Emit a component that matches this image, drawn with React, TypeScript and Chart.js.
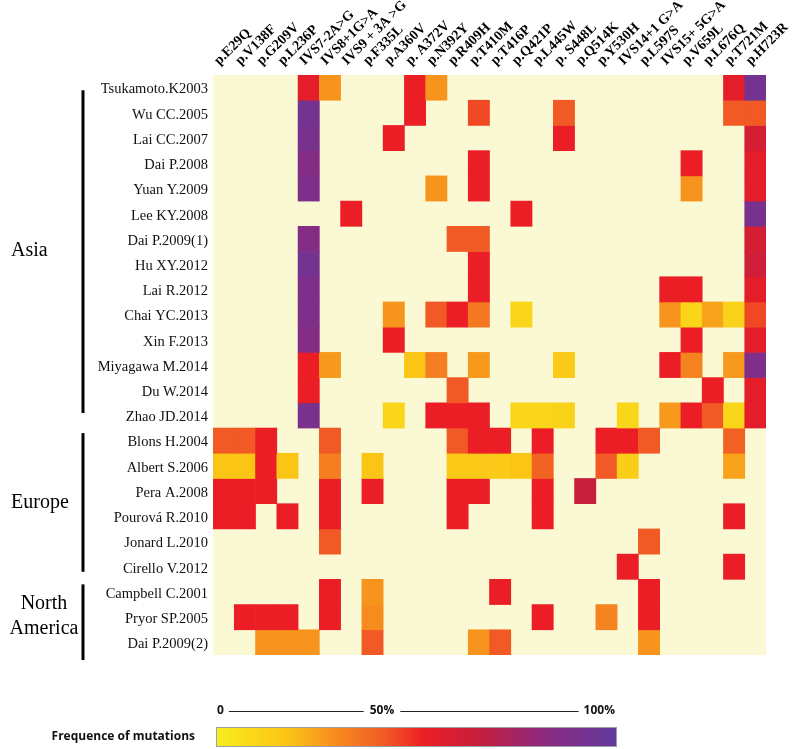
import React, { useEffect, useRef } from "react";
import { Chart, registerables } from "chart.js";

Chart.register(...registerables);

// ---------- data ----------
const mutations = [
  "p.E29Q", "p.V138F", "p.G209V", "p.L236P", "IVS7-2A>G", "IVS8+1G>A",
  "IVS9 + 3A >G", "p.F335L", "p.A360V", "p. A372V", "p.N392Y", "p.R409H",
  "p.T410M", "p.T416P", "p.Q421P", "p.L445W", "p. S448L", "p.Q514K",
  "p.Y530H", "IVS14+1 G>A", "p.L597S", "IVS15+ 5G>A", "p.V659L", "p.L676Q",
  "p.T721M", "p.H723R",
];

const studies = [
  "Tsukamoto.K2003", "Wu CC.2005", "Lai CC.2007", "Dai P.2008", "Yuan Y.2009",
  "Lee KY.2008", "Dai P.2009(1)", "Hu XY.2012", "Lai R.2012", "Chai YC.2013",
  "Xin F.2013", "Miyagawa M.2014", "Du W.2014", "Zhao JD.2014",
  "Blons H.2004", "Albert S.2006", "Pera A.2008", "Pourová R.2010",
  "Jonard L.2010", "Cirello V.2012",
  "Campbell C.2001", "Pryor SP.2005", "Dai P.2009(2)",
];

const regionNames = [["Asia"], ["Europe"], ["North", "America"]];
const regionFirstRow = [0, 14, 20];
const regionLastRow = [13, 19, 22];

const legendTitle = "Frequence of mutations";
const legendTicks = ["0", "50%", "100%"];

// frequency of each mutation (% , estimated from colour), null = not reported
const _ = null;
const frequencies: (number | null)[][] = [
  [_, _, _, _, 55, 28, _, _, _, 52, 28, _, _, _, _, _, _, _, _, _, _, _, _, _, 55, 92],
  [_, _, _, _, 92, _, _, _, _, 52, _, _, 45, _, _, _, 42, _, _, _, _, _, _, _, 42, 42],
  [_, _, _, _, 90, _, _, _, 52, _, _, _, _, _, _, _, 52, _, _, _, _, _, _, _, _, 60],
  [_, _, _, _, 85, _, _, _, _, _, _, _, 52, _, _, _, _, _, _, _, _, _, 52, _, _, 55],
  [_, _, _, _, 88, _, _, _, _, _, 28, _, 52, _, _, _, _, _, _, _, _, _, 28, _, _, 55],
  [_, _, _, _, _, _, 52, _, _, _, _, _, _, _, 52, _, _, _, _, _, _, _, _, _, _, 90],
  [_, _, _, _, 85, _, _, _, _, _, _, 42, 42, _, _, _, _, _, _, _, _, _, _, _, _, 60],
  [_, _, _, _, 92, _, _, _, _, _, _, _, 52, _, _, _, _, _, _, _, _, _, _, _, _, 62],
  [_, _, _, _, 88, _, _, _, _, _, _, _, 52, _, _, _, _, _, _, _, _, 52, 52, _, _, 55],
  [_, _, _, _, 88, _, _, _, 28, _, 42, 52, 35, _, 10, _, _, _, _, _, _, 28, 10, 25, 12, 45],
  [_, _, _, _, 85, _, _, _, 52, _, _, _, _, _, _, _, _, _, _, _, _, _, 52, _, _, 55],
  [_, _, _, _, 52, 27, _, _, _, 18, 33, _, 27, _, _, _, 16, _, _, _, _, 52, 32, _, 27, 88],
  [_, _, _, _, 52, _, _, _, _, _, _, 42, _, _, _, _, _, _, _, _, _, _, _, 52, _, 55],
  [_, _, _, _, 90, _, _, _, 10, _, 52, 52, 52, _, 10, 10, 12, _, _, 10, _, 27, 52, 42, 10, 55],
  [42, 42, 52, _, _, 42, _, _, _, _, _, 42, 52, 52, _, 52, _, _, 52, 52, 42, _, _, _, 40, _],
  [18, 18, 52, 18, _, 33, _, 18, _, _, _, 16, 16, 16, 18, 40, _, _, 42, 14, _, _, _, _, 25, _],
  [52, 52, 52, _, _, 52, _, 52, _, _, _, 52, 52, _, _, 52, _, 65, _, _, _, _, _, _, _, _],
  [52, 52, _, 52, _, 52, _, _, _, _, _, 52, _, _, _, 52, _, _, _, _, _, _, _, _, 52, _],
  [_, _, _, _, _, 42, _, _, _, _, _, _, _, _, _, _, _, _, _, _, 42, _, _, _, _, _],
  [_, _, _, _, _, _, _, _, _, _, _, _, _, _, _, _, _, _, _, 52, _, _, _, _, 52, _],
  [_, _, _, _, _, 52, _, 28, _, _, _, _, _, 52, _, _, _, _, _, _, 52, _, _, _, _, _],
  [_, 52, 52, 52, _, 52, _, 30, _, _, _, _, _, _, _, 52, _, _, 32, _, 52, _, _, _, _, _],
  [_, _, 28, 28, 28, _, _, 42, _, _, _, _, 28, 42, _, _, _, _, _, _, 28, _, _, _, _, _],
];

// ---------- styles ----------
const colorStops: [number, number[]][] = [
  [0, [248, 236, 30]],
  [18, [251, 197, 22]],
  [28, [247, 148, 29]],
  [42, [241, 90, 36]],
  [52, [236, 30, 37]],
  [66, [196, 30, 62]],
  [82, [140, 42, 128]],
  [100, [96, 58, 156]],
];

function colorFor(v: number): string {
  for (let i = 1; i < colorStops.length; i++) {
    const [v1, c1] = colorStops[i];
    const [v0, c0] = colorStops[i - 1];
    if (v <= v1) {
      const t = (v - v0) / (v1 - v0);
      const c = c0.map((a, k) => Math.round(a + (c1[k] - a) * t));
      return `rgb(${c[0]},${c[1]},${c[2]})`;
    }
  }
  const c = colorStops[colorStops.length - 1][1];
  return `rgb(${c[0]},${c[1]},${c[2]})`;
}

const SERIF = '"Liberation Serif", "Times New Roman", serif';
const SANS = '"Liberation Sans Narrow", "Open Sans", "Liberation Sans", Arial, sans-serif';
const CREAM = "#fbf8d4";

const bracketTopInset = [0.6, 0.2, 0.2];
const bracketBottomInset = [0.6, 0.3, -0.2];

const decorPlugin = {
  id: "decor",
  beforeDatasetsDraw(chart: any) {
    const { ctx, chartArea } = chart;
    ctx.save();
    ctx.fillStyle = CREAM;
    ctx.fillRect(chartArea.left, chartArea.top, chartArea.right - chartArea.left, chartArea.bottom - chartArea.top);
    ctx.restore();
  },
  afterDraw(chart: any) {
    const { ctx } = chart;
    const ys = chart.scales.y;
    ctx.save();
    // region brackets and labels
    ctx.strokeStyle = "#000";
    ctx.fillStyle = "#000";
    ctx.lineWidth = 3;
    regionNames.forEach((names, i) => {
      const top = ys.getPixelForValue(regionFirstRow[i] + bracketTopInset[i]);
      const bot = ys.getPixelForValue(regionLastRow[i] + 1 - bracketBottomInset[i]);
      ctx.beginPath();
      ctx.moveTo(83, top);
      ctx.lineTo(83, bot);
      ctx.stroke();
      ctx.font = `20px ${SERIF}`;
      ctx.textBaseline = "middle";
      const mid = (regionFirstRow[i] + regionLastRow[i] + 1) / 2;
      if (names.length === 1) {
        ctx.textAlign = "left";
        ctx.fillText(names[0], 11, ys.getPixelForValue(mid) - 1);
      } else {
        ctx.textAlign = "center";
        names.forEach((n, k) => {
          ctx.fillText(n, 44, ys.getPixelForValue(mid - 0.55 + k));
        });
      }
    });

    // colour legend
    const barL = 216, barR = 617, barT = 727, barB = 747;
    const grad = ctx.createLinearGradient(barL, 0, barR, 0);
    colorStops.forEach(([v, c]) => grad.addColorStop(v / 100, `rgb(${c[0]},${c[1]},${c[2]})`));
    ctx.fillStyle = grad;
    ctx.fillRect(barL, barT, barR - barL, barB - barT);
    ctx.strokeStyle = "#9aa0aa";
    ctx.lineWidth = 1;
    ctx.strokeRect(barL + 0.5, barT + 0.5, barR - barL - 1, barB - barT - 1);

    ctx.fillStyle = "#111";
    ctx.font = `bold 12px ${SANS}`;
    ctx.textBaseline = "middle";
    ctx.textAlign = "right";
    ctx.fillText(legendTitle, 195, (barT + barB) / 2);

    const ty = 711;
    const w0 = ctx.measureText(legendTicks[0]).width;
    const w1 = ctx.measureText(legendTicks[1]).width;
    const w2 = ctx.measureText(legendTicks[2]).width;
    const x0 = barL + 1;
    const x1c = barL + (barR - barL) * 0.414;
    const x2r = barR - 2;
    ctx.textAlign = "left";
    ctx.fillText(legendTicks[0], x0, ty);
    ctx.textAlign = "center";
    ctx.fillText(legendTicks[1], x1c, ty);
    ctx.textAlign = "right";
    ctx.fillText(legendTicks[2], x2r, ty);
    ctx.strokeStyle = "#222";
    ctx.lineWidth = 1;
    ctx.beginPath();
    ctx.moveTo(x0 + w0 + 5, ty + 0.5);
    ctx.lineTo(x1c - w1 / 2 - 6, ty + 0.5);
    ctx.moveTo(x1c + w1 / 2 + 6, ty + 0.5);
    ctx.lineTo(x2r - w2 - 5, ty + 0.5);
    ctx.stroke();
    ctx.restore();
  },
};

export default function App() {
  const canvasRef = useRef<HTMLCanvasElement | null>(null);

  useEffect(() => {
    const canvas = canvasRef.current;
    if (!canvas) return;

    const datasets = frequencies.map((row, r) => ({
      label: studies[r],
      data: row.map((v) => (v == null ? null : [r, r + 1])),
      backgroundColor: row.map((v) => (v == null ? "rgba(0,0,0,0)" : colorFor(v))),
      borderWidth: 0,
      grouped: false,
      categoryPercentage: 1,
      barPercentage: 1,
    }));

    const chart = new Chart(canvas, {
      type: "bar",
      data: { labels: mutations, datasets: datasets as any },
      plugins: [decorPlugin],
      options: {
        responsive: false,
        animation: false,
        devicePixelRatio: 1,
        layout: { padding: { left: 0, right: 34, top: 0, bottom: 94 } },
        plugins: { legend: { display: false }, tooltip: { enabled: false } },
        scales: {
          x: {
            type: "category",
            position: "top",
            grid: { display: false, drawTicks: false },
            border: { display: false },
            ticks: {
              autoSkip: false,
              minRotation: 45,
              maxRotation: 45,
              padding: 6,
              labelOffset: 5,
              color: "#000",
              font: { family: SERIF, size: 14, weight: "bold" },
            },
            afterFit: (scale: any) => {
              scale.height = 75;
            },
          },
          y: {
            type: "linear",
            min: 0,
            max: studies.length,
            reverse: true,
            grid: { display: false, drawTicks: false },
            border: { display: false },
            afterBuildTicks: (axis: any) => {
              axis.ticks = studies.map((_s, i) => ({ value: i + 0.5 }));
            },
            ticks: {
              autoSkip: false,
              padding: 5,
              labelOffset: 2,
              color: "#111",
              font: { family: SERIF, size: 14.5 },
              callback: (value: any) => studies[Math.floor(Number(value))] ?? "",
            },
            afterFit: (scale: any) => {
              scale.width = 213;
            },
          },
        },
      } as any,
    });

    return () => chart.destroy();
  }, []);

  return (
    <div style={{ position: "absolute", left: 0, top: 0, width: 800, height: 749 }}>
      <canvas ref={canvasRef} width={800} height={749} style={{ display: "block" }} />
    </div>
  );
}
